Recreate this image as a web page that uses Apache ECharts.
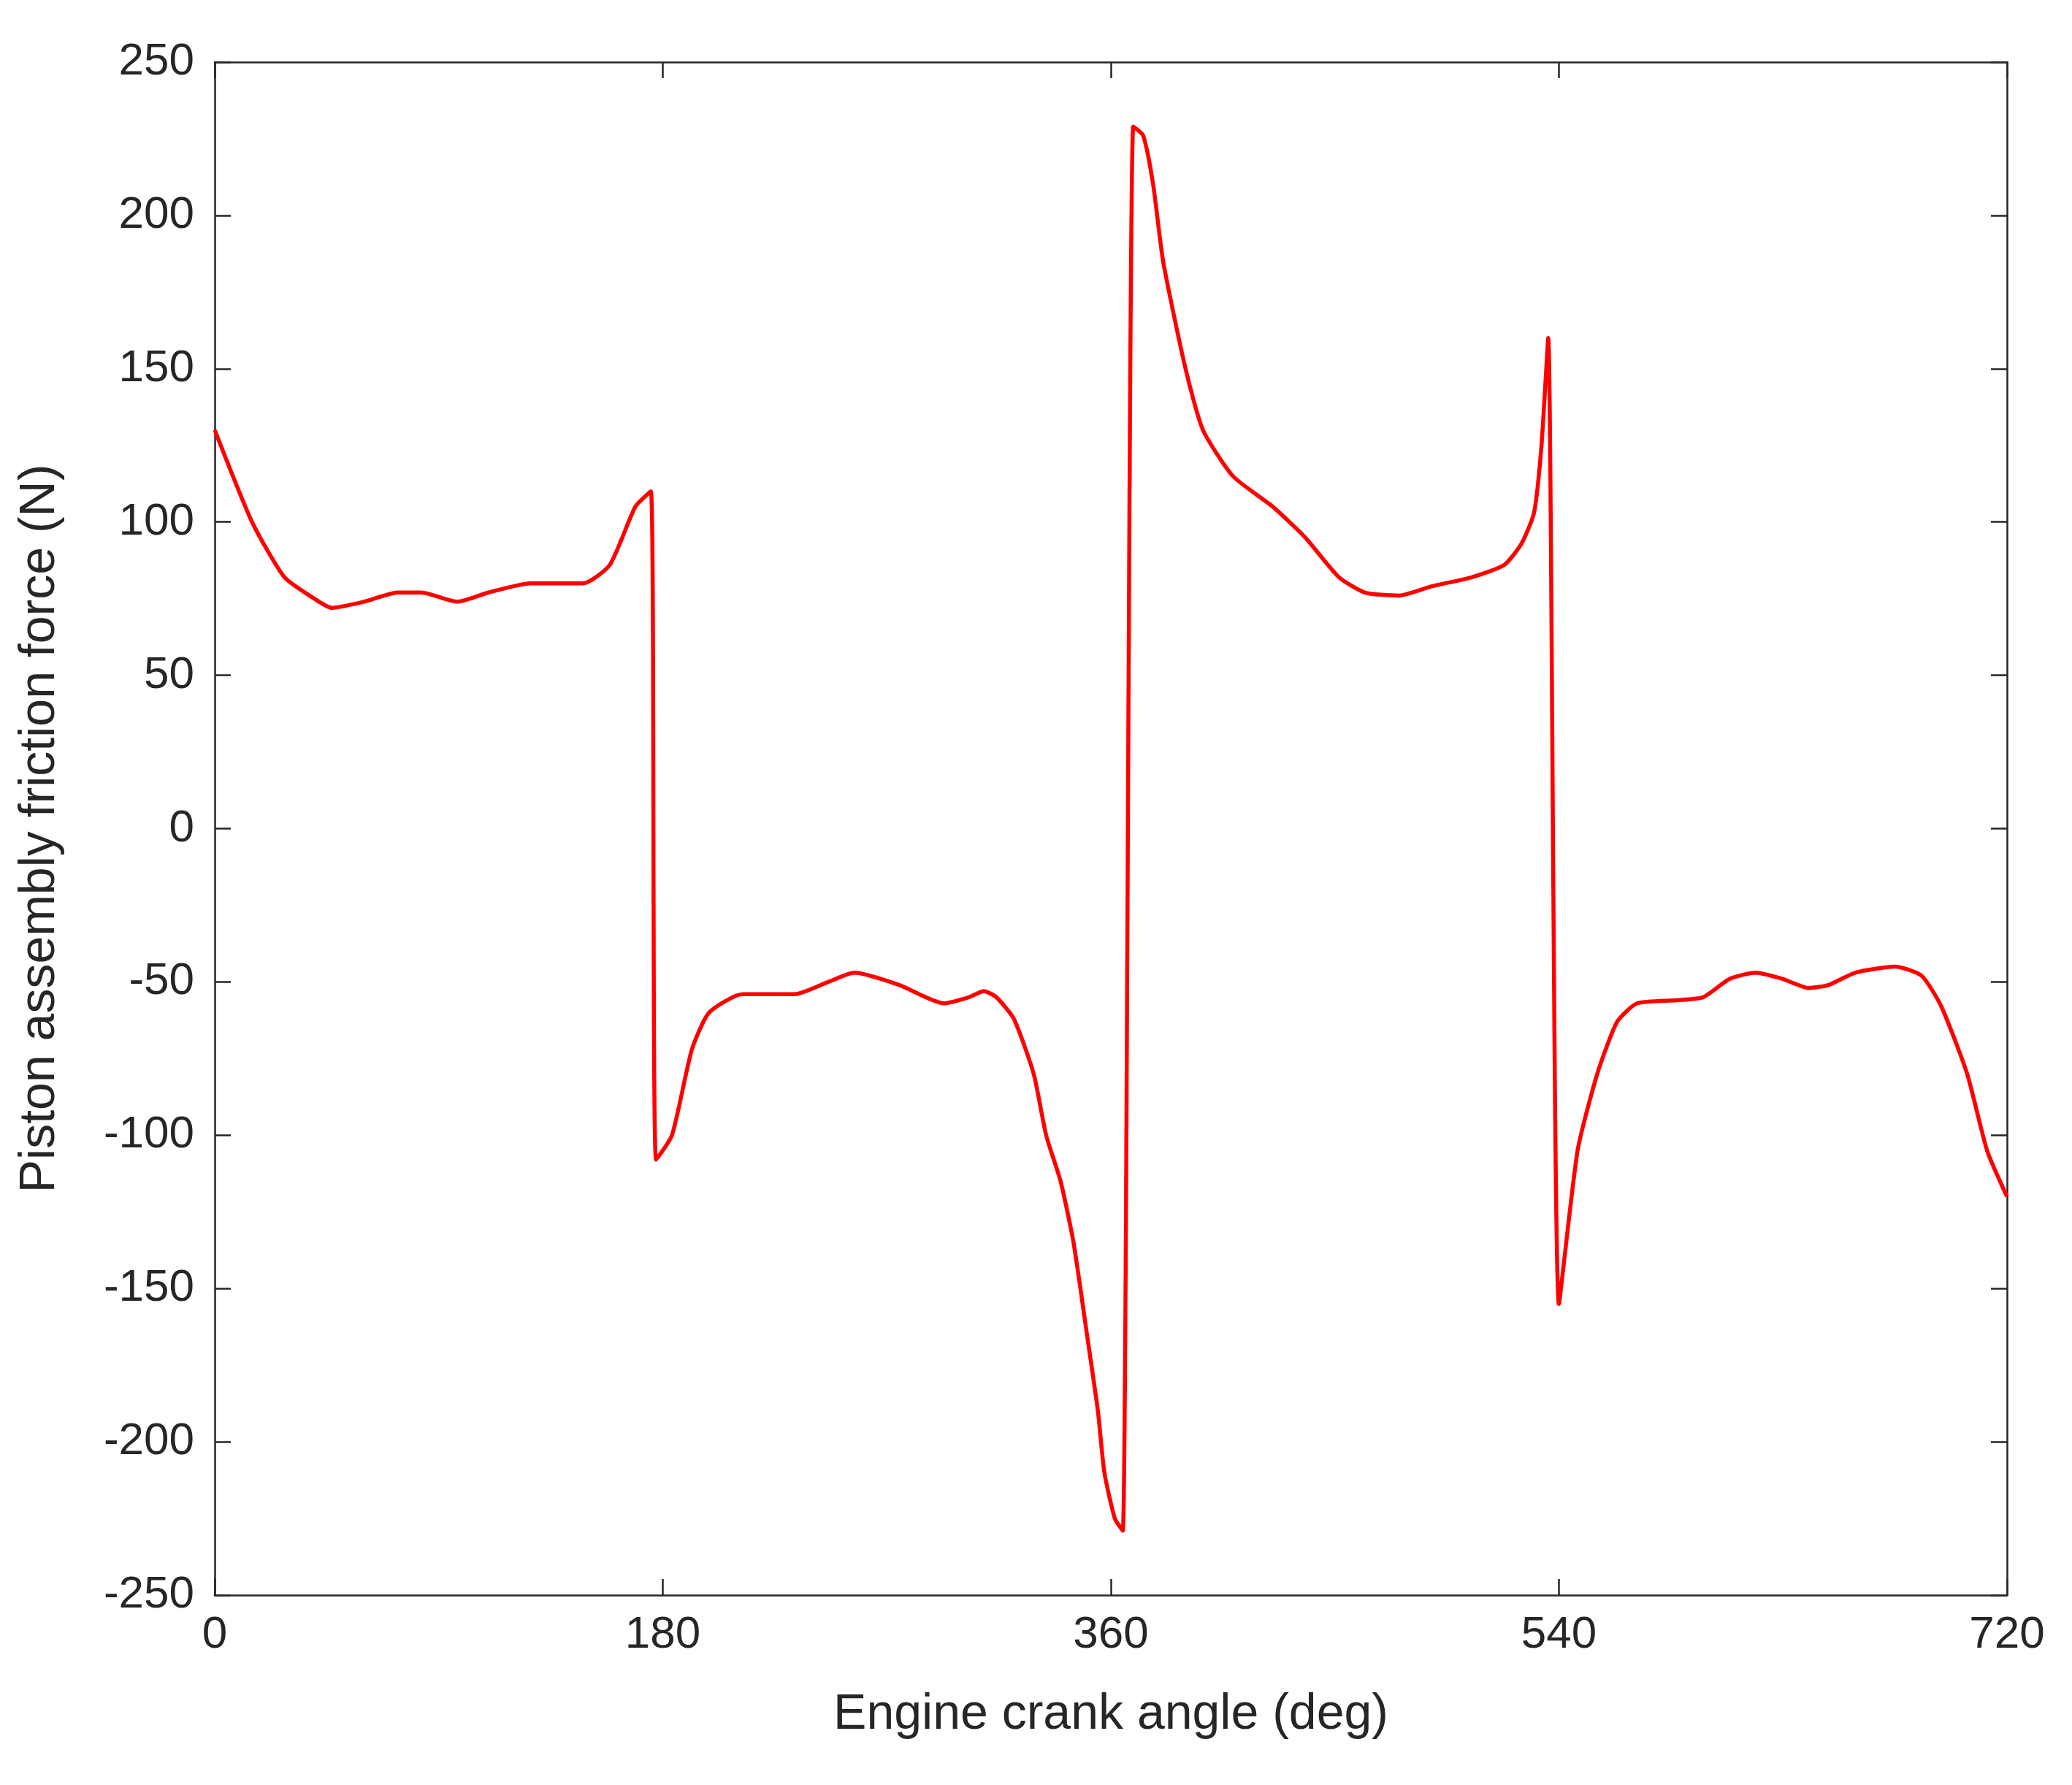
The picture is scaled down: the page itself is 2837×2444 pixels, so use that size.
<!DOCTYPE html>
<html><head><meta charset="utf-8">
<script src="https://cdn.jsdelivr.net/npm/echarts@6/dist/echarts.min.js"></script>
<style>html,body{margin:0;padding:0;background:#fff}#c{width:2837px;height:2444px}</style>
</head><body><div id="c"></div>
<script>
const angles = [0,15,28,40,47,60,73.5,83,97.5,110,126.7,148,158.7,169,175.2,177.3,183.7,191.7,198.6,212,233,246.5,257,275,293,303,309,314,321,329,334,339.8,345,350.4,354.8,357.4,361.6,364.8,369,373,377,381,390,397,409,425,438,451.6,462,475.5,488.8,505,518,525,530,533,535.7,540,547.5,555.4,563.4,571.4,587.4,598,608.6,619,629.7,640.4,648.4,659,675,685.7,693.6,704,712,720];
const force = [130,100,82,75,72,74,77,77,74,77,80,80,86,105,110,-108,-100,-72,-60,-54,-54,-50,-47,-51,-57,-55,-53,-55,-62,-80,-100,-115,-135,-165,-190,-210,-225,-229,229,226,210,185,150,130,115,105,95,82,77,76,79,82,86,93,103,125,160,-155,-105,-80,-63,-57,-56,-55,-49,-47,-49,-52,-51,-47,-45,-48,-58,-80,-105,-120];
const xTicks = [0,180,360,540,720];
const ch = echarts.init(document.getElementById('c'));
const font = 'Liberation Sans, Arial, sans-serif';
const axLine = {show:true,onZero:false,lineStyle:{color:'#262626',width:2.5}};
const tick = {show:true,inside:true,length:22,lineStyle:{color:'#262626',width:2.5}};
ch.setOption({
  animation:false,
  grid:{left:294,right:89,top:85,bottom:260},
  xAxis:[{type:'value',min:0,max:720,interval:180,position:'bottom',
    axisLine:axLine,axisTick:tick,splitLine:{show:false},
    axisLabel:{fontSize:62,color:'#262626',fontFamily:font,margin:24},
    name:'Engine crank angle (deg)',nameLocation:'middle',nameGap:130,
    nameTextStyle:{fontSize:68,color:'#262626',fontFamily:font}},
   {type:'value',min:0,max:720,interval:180,position:'top',
    axisLine:axLine,axisTick:tick,splitLine:{show:false},axisLabel:{show:false}}],
  yAxis:[{type:'value',min:-250,max:250,interval:50,position:'left',
    axisLine:axLine,axisTick:tick,splitLine:{show:false},
    axisLabel:{fontSize:62,color:'#262626',fontFamily:font,margin:28},
    name:'Piston assembly friction force (N)',nameLocation:'middle',nameGap:205,
    nameTextStyle:{fontSize:68,color:'#262626',fontFamily:font}},
   {type:'value',min:-250,max:250,interval:50,position:'right',
    axisLine:axLine,axisTick:tick,splitLine:{show:false},axisLabel:{show:false}}],
  series:[{type:'line',data:angles.map((a,i)=>[a,force[i]]),showSymbol:false,smooth:0.2,
    lineStyle:{color:'#ff0000',width:5.5},itemStyle:{color:'#ff0000'}}]
});
</script></body></html>
